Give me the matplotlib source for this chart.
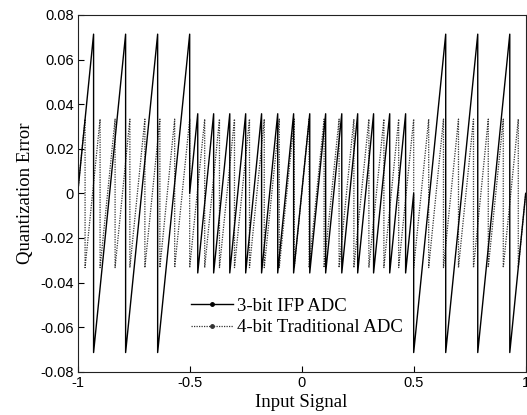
import matplotlib
matplotlib.use('Agg')
import matplotlib.pyplot as plt
from matplotlib.lines import Line2D

# 3-bit IFP ADC: sawtooth breakpoints (x) and error at start / end of each tooth
ifp_breaks = [-1, -0.929, -0.786, -0.643, -0.5, -0.464, -0.393, -0.321, -0.25,
              -0.179, -0.107, -0.036, 0.036, 0.107, 0.179, 0.25, 0.321, 0.393,
              0.464, 0.5, 0.643, 0.786, 0.929, 1]
ifp_start = [0, -0.0714, -0.0714, -0.0714, 0, -0.0357, -0.0357, -0.0357, -0.0357,
             -0.0357, -0.0357, -0.0357, -0.0357, -0.0357, -0.0357, -0.0357, -0.0357,
             -0.0357, -0.0357, -0.0714, -0.0714, -0.0714, -0.0714]
ifp_end = [0.0714, 0.0714, 0.0714, 0.0714, 0.0357, 0.0357, 0.0357, 0.0357, 0.0357,
           0.0357, 0.0357, 0.0357, 0.0357, 0.0357, 0.0357, 0.0357, 0.0357, 0.0357,
           0, 0.0714, 0.0714, 0.0714, 0]

# 4-bit traditional ADC
trad_breaks = [-1, -0.967, -0.9, -0.833, -0.767, -0.7, -0.633, -0.567, -0.5,
               -0.433, -0.367, -0.3, -0.233, -0.167, -0.1, -0.033, 0.033, 0.1,
               0.167, 0.233, 0.3, 0.367, 0.433, 0.5, 0.567, 0.633, 0.7, 0.767,
               0.833, 0.9, 0.967, 1]
trad_start = [0] + [-0.0333] * 30
trad_end = [0.0333] * 30 + [0]

xticks = [-1, -0.5, 0, 0.5, 1]
xticklabels = ['-1', '-0.5', '0', '0.5', '1']
yticks = [-0.08, -0.06, -0.04, -0.02, 0, 0.02, 0.04, 0.06, 0.08]
yticklabels = ['-0.08', '-0.06', '-0.04', '-0.02', '0', '0.02', '0.04', '0.06', '0.08']


def teeth(breaks, start, end):
    xs, ys = [], []
    for i in range(len(start)):
        xs += [breaks[i], breaks[i + 1]]
        ys += [start[i], end[i]]
    return xs, ys


fig = plt.figure(figsize=(5.27, 4.15), dpi=100)
ax = fig.add_axes([0.1474, 0.1043, 0.8501, 0.8596])

tx, ty = teeth(trad_breaks, trad_start, trad_end)
ax.plot(tx, ty, color='#333333', lw=0.9, ls=(0, (1, 1)))
ix, iy = teeth(ifp_breaks, ifp_start, ifp_end)
ax.plot(ix, iy, color='black', lw=1.0)

ax.set_xlim(-1, 1)
ax.set_ylim(-0.08, 0.08)
ax.set_xticks(xticks)
ax.set_xticklabels(xticklabels)
ax.set_yticks(yticks)
ax.set_yticklabels(yticklabels)
ax.tick_params(direction='in', length=4, width=0.8, labelsize=10.5, pad=3,
               top=False, right=False)
for lab in ax.get_xticklabels() + ax.get_yticklabels():
    lab.set_family('Liberation Sans')
for s in ax.spines.values():
    s.set_linewidth(0.8)
    s.set_color('#222222')

ax.set_xlabel('Input Signal', family='Liberation Serif', fontsize=13.5, labelpad=3)
ax.set_ylabel('Quantization Error', family='Liberation Serif', fontsize=13.5, labelpad=4)

handles = [
    Line2D([], [], color='black', lw=1.0, marker='.', markersize=5),
    Line2D([], [], color='#333333', lw=0.9, ls=(0, (1, 1)), marker='.', markersize=5),
]
ax.legend(handles, ['3-bit IFP ADC', '4-bit Traditional ADC'], frameon=False,
          loc='lower left', bbox_to_anchor=(0.215, 0.052), handlelength=2.25,
          handletextpad=0.2, labelspacing=0.22, borderpad=0.4,
          prop={'family': 'Liberation Serif', 'size': 13.5})

fig.savefig('out.png', dpi=100)
